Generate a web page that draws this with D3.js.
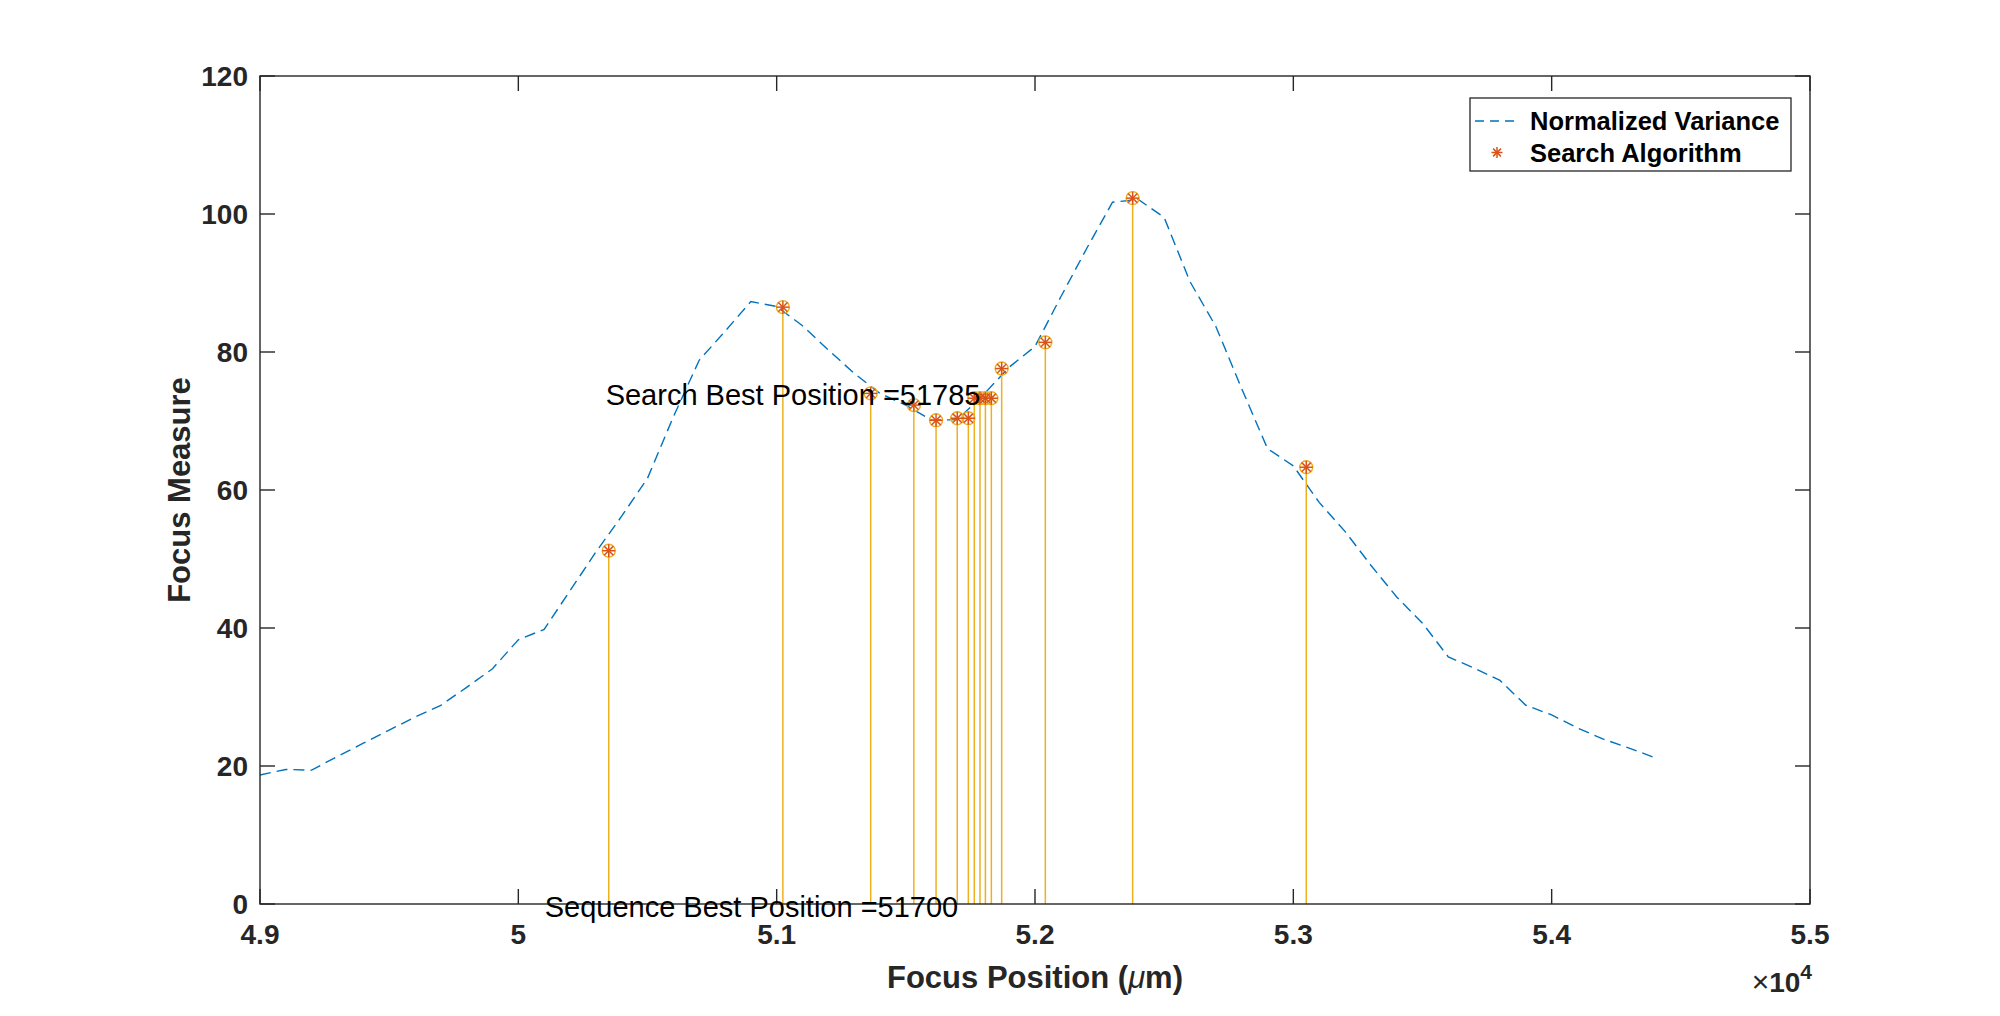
<!DOCTYPE html>
<html>
<head>
<meta charset="utf-8">
<script src="https://cdn.jsdelivr.net/npm/d3@7"></script>
<style>
  html, body { margin: 0; padding: 0; background: #fff; }
  svg { display: block; }
  text { font-family: "Liberation Sans", Arial, Helvetica, sans-serif; }
</style>
</head>
<body>
<svg id="chart" width="2000" height="1016"></svg>
<script>
// ---- Data ----
const focusPositions = [49000,49100,49200,49300,49400,49500,49600,49700,49800,49900,
  50000,50100,50200,50300,50400,50500,50600,50700,50800,50900,
  51000,51100,51200,51300,51400,51500,51600,51700,51800,51900,
  52000,52100,52200,52300,52400,52500,52600,52700,52800,52900,
  53000,53100,53200,53300,53400,53500,53600,53700,53800,53900,
  54000,54100,54200,54300,54400];
const normalizedVariance = [18.7,19.5,19.4,21.4,23.3,25.2,27.1,28.8,31.4,34.1,
  38.3,39.8,45.4,51.0,56.2,61.7,70.6,78.8,83.0,87.3,
  86.6,83.8,80.3,76.9,74.0,72.3,70.1,70.2,73.8,77.8,
  80.8,88.0,95.0,101.7,102.1,99.5,90.2,83.7,74.7,66.0,
  63.5,58.2,54.0,49.1,44.5,40.7,35.8,34.2,32.4,28.8,
  27.4,25.5,23.9,22.6,21.2];
const searchPositions = [50350,51024,51364,51531,51617,51699,51742,51765,51787,51808,51831,51871,52040,52378,53050];
const searchValues    = [51.2,86.5,74.0,72.3,70.1,70.4,70.4,73.3,73.3,73.3,73.3,77.6,81.4,102.3,63.3];
const xTickValues = [49000,50000,51000,52000,53000,54000,55000];
const yTickValues = [0,20,40,60,80,100,120];
const seriesNames = ["Normalized Variance","Search Algorithm"];
const annotations = [
  {text:"Search Best Position =51785", x:50338, y:73.8},
  {text:"Sequence Best Position =51700", x:50102, y:-0.4}
];
const yLabel = "Focus Measure";

// ---- Layout ----
const L = 260, T = 76, R = 1810, B = 904;
const axisColor = "#262626";

const svg = d3.select("#chart");
const x = d3.scaleLinear().domain([49000,55000]).range([L,R]);
const y = d3.scaleLinear().domain([0,120]).range([B,T]);

// Normalized variance curve
const line = d3.line().x((d,i)=>x(focusPositions[i])).y(d=>y(d));
svg.append("path")
  .datum(normalizedVariance)
  .attr("d", line)
  .attr("fill","none")
  .attr("stroke","#0072BD")
  .attr("stroke-width",1.4)
  .attr("stroke-dasharray","11,6");

// Stems
const pts = searchPositions.map((p,i)=>({x:p, v:searchValues[i]}));
svg.append("g").selectAll("line").data(pts).join("line")
  .attr("x1",d=>x(d.x)).attr("x2",d=>x(d.x))
  .attr("y1",y(0)).attr("y2",d=>y(d.v))
  .attr("stroke","#EDB120").attr("stroke-width",1.5);
svg.append("g").selectAll("circle").data(pts).join("circle")
  .attr("cx",d=>x(d.x)).attr("cy",d=>y(d.v)).attr("r",6.5)
  .attr("fill","none").attr("stroke","#EDB120").attr("stroke-width",1.4);

// Asterisk marker
function asterisk(g, cx, cy, s, color){
  const a = s*0.7071;
  const segs = [[-s,0,s,0],[0,-s,0,s],[-a,-a,a,a],[-a,a,a,-a]];
  segs.forEach(q=>g.append("line")
    .attr("x1",cx+q[0]).attr("y1",cy+q[1]).attr("x2",cx+q[2]).attr("y2",cy+q[3])
    .attr("stroke",color).attr("stroke-width",1.5));
}
const starG = svg.append("g");
pts.forEach(d=>asterisk(starG, x(d.x), y(d.v), 6.5, "#D95319"));

// Axes box
svg.append("rect").attr("x",L).attr("y",T).attr("width",R-L).attr("height",B-T)
  .attr("fill","none").attr("stroke",axisColor).attr("stroke-width",1.4);

const tickLen = 15;
const tg = svg.append("g").attr("stroke",axisColor).attr("stroke-width",1.4);
xTickValues.forEach(v=>{
  tg.append("line").attr("x1",x(v)).attr("x2",x(v)).attr("y1",B).attr("y2",B-tickLen);
  tg.append("line").attr("x1",x(v)).attr("x2",x(v)).attr("y1",T).attr("y2",T+tickLen);
});
yTickValues.forEach(v=>{
  tg.append("line").attr("x1",L).attr("x2",L+tickLen).attr("y1",y(v)).attr("y2",y(v));
  tg.append("line").attr("x1",R).attr("x2",R-tickLen).attr("y1",y(v)).attr("y2",y(v));
});

// Tick labels
svg.append("g").selectAll("text").data(xTickValues).join("text")
  .attr("x",d=>x(d)).attr("y",B+40)
  .attr("text-anchor","middle")
  .attr("font-size",28).attr("font-weight","bold").attr("fill",axisColor)
  .text(d=>String(+(d/1e4).toFixed(1)));
svg.append("g").selectAll("text").data(yTickValues).join("text")
  .attr("x",L-12).attr("y",d=>y(d)+10)
  .attr("text-anchor","end")
  .attr("font-size",28).attr("font-weight","bold").attr("fill",axisColor)
  .text(d=>d);

// Exponent
const ex = svg.append("text").attr("x",R+2).attr("y",992).attr("text-anchor","end")
  .attr("font-size",28).attr("font-weight","bold").attr("fill",axisColor);
ex.append("tspan").attr("font-weight","normal").attr("font-size",30).text("\u00D7");
ex.append("tspan").text("10");
ex.append("tspan").attr("font-size",21).attr("dy",-13).text("4");

// Axis labels
const xl = svg.append("text").attr("x",(L+R)/2).attr("y",988).attr("text-anchor","middle")
  .attr("font-size",31).attr("font-weight","bold").attr("fill",axisColor);
xl.append("tspan").text("Focus Position (");
xl.append("tspan").attr("font-style","italic").attr("font-weight","normal").text("\u03BC");
xl.append("tspan").text("m)");
svg.append("text").attr("transform",`translate(190,${(T+B)/2}) rotate(-90)`)
  .attr("text-anchor","middle")
  .attr("font-size",31).attr("font-weight","bold").attr("fill",axisColor)
  .text(yLabel);

// Annotations
svg.append("g").selectAll("text").data(annotations).join("text")
  .attr("x",d=>x(d.x)).attr("y",d=>y(d.y)+10)
  .attr("font-size",29).attr("fill","#000")
  .text(d=>d.text);

// Legend
const lg = svg.append("g");
lg.append("rect").attr("x",1470).attr("y",98).attr("width",321).attr("height",73)
  .attr("fill","#fff").attr("stroke",axisColor).attr("stroke-width",1.3);
lg.append("line").attr("x1",1475).attr("x2",1519).attr("y1",121).attr("y2",121)
  .attr("stroke","#0072BD").attr("stroke-width",1.4).attr("stroke-dasharray","9,6");
asterisk(lg, 1497, 152.5, 5.5, "#D95319");
lg.selectAll("text.leg").data(seriesNames).join("text")
  .attr("class","leg")
  .attr("x",1530).attr("y",(d,i)=>130+i*32)
  .attr("font-size",25.5).attr("font-weight","bold").attr("fill","#000")
  .text(d=>d);
</script>
</body>
</html>
